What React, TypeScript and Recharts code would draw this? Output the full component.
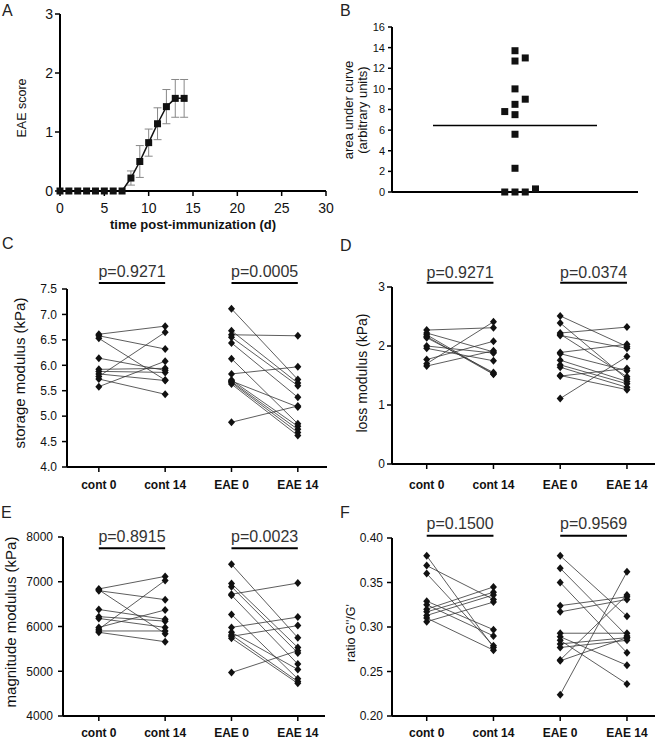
import {
  ErrorBar,
  Line,
  LineChart,
  ReferenceLine,
  Scatter,
  ScatterChart,
  XAxis,
  YAxis,
} from 'recharts';

const FONT = 'Arial, "Liberation Sans", Helvetica, sans-serif';
const INK = '#111';

// A: clinical score over time
const days = [0, 1, 2, 3, 4, 5, 6, 7, 8, 9, 10, 11, 12, 13, 14];
const eaeScore = [0, 0, 0, 0, 0, 0, 0, 0, 0.22, 0.5, 0.82, 1.14, 1.43, 1.57, 1.57];
const eaeSem = [0, 0, 0, 0, 0, 0, 0, 0, 0.12, 0.27, 0.23, 0.27, 0.29, 0.32, 0.32];
const dayTicks = [0, 5, 10, 15, 20, 25, 30];
const scoreTicks = [0, 1, 2, 3];

// B: area under curve, one point per animal
const aucValues = [13.7, 12.7, 13.0, 10.0, 9.0, 8.5, 7.8, 7.5, 5.6, 2.3, 0, 0, 0, 0.3];
const aucColumn = [0, 0, 1, 0, 1, 0, -1, 0, 0, 0, -1, 0, 1, 2];
const aucTicks = [0, 2, 4, 6, 8, 10, 12, 14, 16];

const groupLabels = ['cont 0', 'cont 14', 'EAE 0', 'EAE 14'];

// C: storage modulus (kPa)
const storageCont0 = [6.61, 6.58, 6.53, 6.14, 5.92, 5.88, 5.83, 5.78, 5.73, 5.58];
const storageCont14 = [6.77, 6.32, 5.71, 5.9, 5.94, 5.86, 5.7, 6.65, 5.43, 6.08];
const storageEae0 = [7.11, 6.68, 6.6, 6.55, 6.44, 6.13, 5.83, 5.71, 5.68, 5.66, 5.63, 5.69, 4.88];
const storageEae14 = [5.72, 5.65, 6.58, 5.6, 5.37, 4.85, 5.97, 4.8, 4.74, 4.68, 4.62, 5.18, 5.2];
const storageTicks = [4.0, 4.5, 5.0, 5.5, 6.0, 6.5, 7.0, 7.5];

// D: loss modulus (kPa)
const lossCont0 = [2.27, 2.22, 2.19, 2.16, 2.14, 2.0, 1.96, 1.77, 1.7, 1.66];
const lossCont14 = [2.31, 1.9, 1.53, 1.52, 1.55, 1.88, 1.75, 2.08, 2.41, 1.92];
const lossEae0 = [2.51, 2.39, 2.22, 2.2, 2.18, 1.89, 1.87, 1.76, 1.68, 1.64, 1.5, 1.49, 1.11];
const lossEae14 = [1.99, 1.44, 2.32, 1.48, 1.96, 2.03, 1.58, 1.4, 1.36, 1.3, 1.26, 1.62, 1.82];
const lossTicks = [0, 1, 2, 3];

// E: magnitude modulus (kPa)
const magCont0 = [6840, 6820, 6800, 6380, 6220, 6180, 5980, 5940, 5900, 5870];
const magCont14 = [7120, 5840, 6600, 6160, 6120, 5980, 6370, 7030, 5900, 5660];
const magEae0 = [7390, 6960, 6890, 6720, 6700, 6270, 5980, 5870, 5810, 5780, 5740, 4970];
const magEae14 = [5750, 5530, 5410, 6970, 5160, 4830, 6210, 5040, 4770, 6020, 4730, 5460];
const magTicks = [4000, 5000, 6000, 7000, 8000];

// F: ratio G''/G'
const ratioCont0 = [0.38, 0.369, 0.36, 0.329, 0.325, 0.32, 0.317, 0.313, 0.31, 0.306];
const ratioCont14 = [0.277, 0.331, 0.279, 0.297, 0.29, 0.345, 0.339, 0.336, 0.274, 0.328];
const ratioEae0 = [0.38, 0.366, 0.35, 0.324, 0.317, 0.293, 0.289, 0.285, 0.281, 0.277, 0.263, 0.262, 0.224];
const ratioEae14 = [0.312, 0.29, 0.271, 0.334, 0.331, 0.293, 0.257, 0.236, 0.288, 0.285, 0.336, 0.288, 0.362];
const ratioTicks = [0.2, 0.25, 0.3, 0.35, 0.4];

const axisLine = { stroke: '#000', strokeWidth: 2 };
const tickLine = { stroke: '#000', strokeWidth: 1.5 };

const squareShape = (p: any) => {
  if (p.cx == null || p.cy == null) return <g />;
  return <rect x={p.cx - 3.5} y={p.cy - 3.5} width={7} height={7} fill={INK} />;
};

const diamondShape = (p: any) => {
  const { cx, cy } = p;
  if (cx == null || cy == null) return <g />;
  return (
    <polygon
      points={`${cx},${cy - 4} ${cx + 3.5},${cy} ${cx},${cy + 4} ${cx - 3.5},${cy}`}
      fill={INK}
    />
  );
};

function PanelLetter({ x, y, children }: { x: number; y: number; children: string }) {
  return (
    <div style={{ position: 'absolute', left: x, top: y, fontSize: 16, lineHeight: 1, color: '#222' }}>
      {children}
    </div>
  );
}

function VTitle({ x, y, size, lines }: { x: number; y: number; size: number; lines: string[] }) {
  return (
    <div
      style={{
        position: 'absolute',
        left: x,
        top: y,
        transform: 'translate(-50%, -50%) rotate(-90deg)',
        fontSize: size,
        lineHeight: 1.05,
        whiteSpace: 'nowrap',
        textAlign: 'center',
        color: INK,
      }}
    >
      {lines.map((l) => (
        <div key={l}>{l}</div>
      ))}
    </div>
  );
}

interface PairedProps {
  left: number;
  top: number;
  width: number;
  height: number;
  marginTop: number;
  marginRight: number;
  yWidth: number;
  xHeight: number;
  xDomain: [number, number];
  yDomain: [number, number];
  yTicks: number[];
  digits: number;
  yTickMargin: number;
  xTickMargin: number;
  cont0: number[];
  cont14: number[];
  eae0: number[];
  eae14: number[];
  pCont: string;
  pEae: string;
  barY: number;
  pOffset: number;
}

function PairedPanel(props: PairedProps) {
  const pairs = [
    ...props.cont0.map((v, i) => [{ x: 0, y: v }, { x: 1, y: props.cont14[i] }]),
    ...props.eae0.map((v, i) => [{ x: 2, y: v }, { x: 3, y: props.eae14[i] }]),
  ];
  const pLabel = (value: string) => ({
    value,
    position: 'top' as const,
    offset: props.pOffset,
    fill: '#333',
    fontSize: 16,
  });

  return (
    <div style={{ position: 'absolute', left: props.left, top: props.top }}>
      <ScatterChart
        width={props.width}
        height={props.height}
        margin={{ top: props.marginTop, right: props.marginRight, bottom: 0, left: 0 }}
      >
        <XAxis
          type="number"
          dataKey="x"
          domain={props.xDomain}
          ticks={[0, 1, 2, 3]}
          tickFormatter={(v) => groupLabels[Number(v)]}
          height={props.xHeight}
          axisLine={axisLine}
          tickLine={tickLine}
          tickSize={5}
          tickMargin={props.xTickMargin}
          tick={{ fontSize: 12, fontWeight: 700, fill: INK }}
          interval={0}
        />
        <YAxis
          type="number"
          dataKey="y"
          domain={props.yDomain}
          ticks={props.yTicks}
          tickFormatter={(v) => Number(v).toFixed(props.digits)}
          width={props.yWidth}
          axisLine={axisLine}
          tickLine={tickLine}
          tickSize={5}
          tickMargin={props.yTickMargin}
          tick={{ fontSize: 12, fill: INK }}
          interval={0}
        />
        {pairs.map((d, i) => (
          <Scatter
            key={i}
            data={d}
            line={{ stroke: '#333', strokeWidth: 0.8 }}
            shape={diamondShape}
            isAnimationActive={false}
          />
        ))}
        <ReferenceLine
          segment={[{ x: 0, y: props.barY }, { x: 1, y: props.barY }]}
          stroke="#000"
          strokeWidth={2}
          ifOverflow="visible"
          label={pLabel(props.pCont)}
        />
        <ReferenceLine
          segment={[{ x: 2, y: props.barY }, { x: 3, y: props.barY }]}
          stroke="#000"
          strokeWidth={2}
          ifOverflow="visible"
          label={pLabel(props.pEae)}
        />
      </ScatterChart>
    </div>
  );
}

export default function App() {
  const scoreData = days.map((d, i) => ({ day: d, score: eaeScore[i], sem: eaeSem[i] }));
  const aucData = aucValues.map((v, i) => ({ x: aucColumn[i], y: v }));
  const aucMean = aucValues.reduce((s, v) => s + v, 0) / aucValues.length;

  return (
    <div
      style={{
        position: 'absolute',
        left: 0,
        top: 0,
        width: 662,
        height: 740,
        background: '#fff',
        fontFamily: FONT,
        overflow: 'hidden',
      }}
    >
      {/* A */}
      <div style={{ position: 'absolute', left: 0, top: 0 }}>
        <LineChart width={340} height={240} data={scoreData} margin={{ top: 14, right: 14, left: 10, bottom: 0 }}>
          <XAxis
            type="number"
            dataKey="day"
            domain={[0, 30]}
            ticks={dayTicks}
            height={49}
            axisLine={axisLine}
            tickLine={tickLine}
            tickSize={5}
            tickMargin={7}
            tick={{ fontSize: 14, fill: INK }}
            interval={0}
            label={{
              value: 'time post-immunization (d)',
              position: 'insideBottom',
              offset: 11,
              fontSize: 13,
              fontWeight: 700,
              fill: INK,
            }}
          />
          <YAxis
            type="number"
            domain={[0, 3]}
            ticks={scoreTicks}
            width={50}
            axisLine={axisLine}
            tickLine={tickLine}
            tickSize={5}
            tickMargin={2}
            tick={{ fontSize: 14, fill: INK }}
            interval={0}
          />
          <Line
            dataKey="score"
            stroke={INK}
            strokeWidth={1.5}
            isAnimationActive={false}
            dot={(p: any) => (
              <rect key={p.index} x={p.cx - 3.5} y={p.cy - 3.5} width={7} height={7} fill={INK} />
            )}
            activeDot={false}
          >
            <ErrorBar dataKey="sem" direction="y" width={4} stroke="#888" strokeWidth={1} />
          </Line>
        </LineChart>
      </div>
      <PanelLetter x={2} y={3}>A</PanelLetter>
      <VTitle x={23} y={108} size={12.5} lines={['EAE score']} />

      {/* B */}
      <div style={{ position: 'absolute', left: 330, top: 0 }}>
        <ScatterChart width={332} height={215} margin={{ top: 27, right: 24, left: 0, bottom: 0 }}>
          <XAxis
            type="number"
            dataKey="x"
            domain={[-12, 12]}
            height={23}
            axisLine={axisLine}
            tick={false}
            tickLine={false}
          />
          <YAxis
            type="number"
            dataKey="y"
            domain={[0, 16]}
            ticks={aucTicks}
            width={62}
            axisLine={axisLine}
            tickLine={tickLine}
            tickSize={4}
            tickMargin={3}
            tick={{ fontSize: 11, fill: INK }}
            interval={0}
          />
          <Scatter data={aucData} shape={squareShape} isAnimationActive={false} />
          <ReferenceLine
            segment={[{ x: -8, y: aucMean }, { x: 8, y: aucMean }]}
            stroke="#000"
            strokeWidth={1.5}
          />
        </ScatterChart>
      </div>
      <PanelLetter x={340} y={3}>B</PanelLetter>
      <VTitle x={356} y={110} size={13} lines={['area under curve', '(arbitrary units)']} />

      {/* C */}
      <PairedPanel
        left={0}
        top={255}
        width={330}
        height={240}
        marginTop={34}
        marginRight={3}
        yWidth={67}
        xHeight={28}
        xDomain={[-0.48, 3.44]}
        yDomain={[4, 7.5]}
        yTicks={storageTicks}
        digits={1}
        yTickMargin={5}
        xTickMargin={8}
        cont0={storageCont0}
        cont14={storageCont14}
        eae0={storageEae0}
        eae14={storageEae14}
        pCont="p=0.9271"
        pEae="p=0.0005"
        barY={7.62}
        pOffset={6}
      />
      <PanelLetter x={2} y={236}>C</PanelLetter>
      <VTitle x={20} y={373} size={15} lines={['storage modulus (kPa)']} />

      {/* D */}
      <PairedPanel
        left={330}
        top={255}
        width={332}
        height={240}
        marginTop={32}
        marginRight={7}
        yWidth={62}
        xHeight={31}
        xDomain={[-0.52, 3.42]}
        yDomain={[0, 3]}
        yTicks={lossTicks}
        digits={0}
        yTickMargin={2}
        xTickMargin={11}
        cont0={lossCont0}
        cont14={lossCont14}
        eae0={lossEae0}
        eae14={lossEae14}
        pCont="p=0.9271"
        pEae="p=0.0374"
        barY={3.07}
        pOffset={5}
      />
      <PanelLetter x={340} y={238}>D</PanelLetter>
      <VTitle x={362} y={373} size={14} lines={['loss modulus (kPa)']} />

      {/* E */}
      <PairedPanel
        left={0}
        top={500}
        width={330}
        height={240}
        marginTop={37}
        marginRight={5}
        yWidth={63}
        xHeight={24}
        xDomain={[-0.54, 3.41]}
        yDomain={[4000, 8000]}
        yTicks={magTicks}
        digits={0}
        yTickMargin={5}
        xTickMargin={7}
        cont0={magCont0}
        cont14={magCont14}
        eae0={magEae0}
        eae14={magEae14}
        pCont="p=0.8915"
        pEae="p=0.0023"
        barY={7750}
        pOffset={6}
      />
      <PanelLetter x={1} y={505}>E</PanelLetter>
      <VTitle x={11} y={622} size={15} lines={['magnitude modulus (kPa)']} />

      {/* F */}
      <PairedPanel
        left={330}
        top={500}
        width={332}
        height={240}
        marginTop={38}
        marginRight={7}
        yWidth={62}
        xHeight={24}
        xDomain={[-0.52, 3.42]}
        yDomain={[0.2, 0.4]}
        yTicks={ratioTicks}
        digits={2}
        yTickMargin={4}
        xTickMargin={7}
        cont0={ratioCont0}
        cont14={ratioCont14}
        eae0={ratioEae0}
        eae14={ratioEae14}
        pCont="p=0.1500"
        pEae="p=0.9569"
        barY={0.4025}
        pOffset={7}
      />
      <PanelLetter x={340} y={505}>F</PanelLetter>
      <VTitle x={352} y={633} size={12.5} lines={["ratio G''/G'"]} />
    </div>
  );
}
